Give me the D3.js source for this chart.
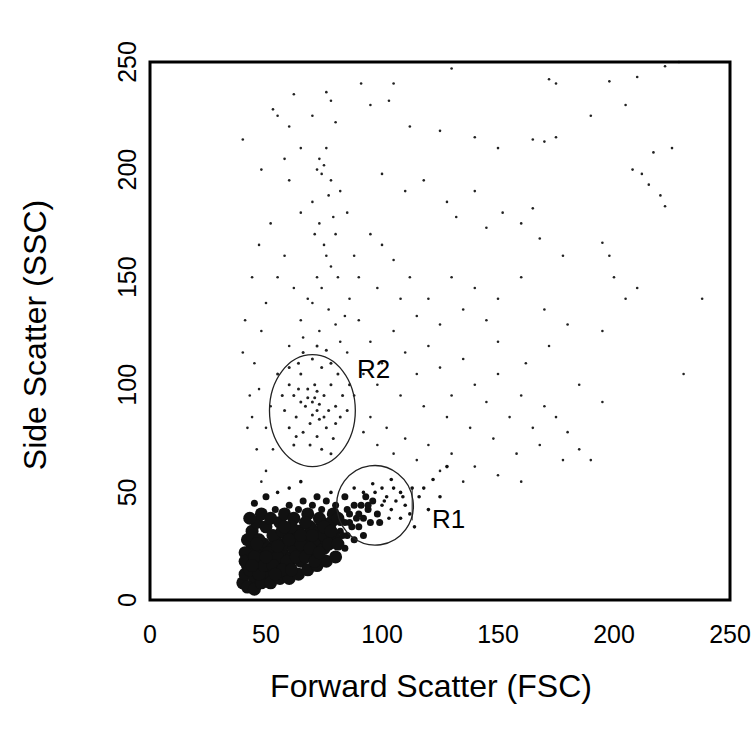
<!DOCTYPE html>
<html><head><meta charset="utf-8">
<script src="https://cdn.jsdelivr.net/npm/d3@7"></script>
<style>body{margin:0;background:#fff}</style></head>
<body><svg id="c" width="751" height="750"></svg>
<script>
const xTicks=[0,50,100,150,200,250];
const yTicks=[0,50,100,150,200,250];
// sparse events [FSC, SSC]
const sparse=[[130,247],[172,242],[175,240],[198,241],[210,243],[222,248],[228,250],[62,235],[76,236],[78,232],[91,240],[55,225],[60,220],[53,228],[70,225],[80,222],[95,230],[103,232],[105,240],[112,220],[125,218],[140,215],[150,210],[165,214],[170,213],[175,215],[190,225],[205,230],[217,208],[225,210],[208,200],[212,198],[215,193],[220,188],[222,183],[40,214],[48,200],[58,205],[65,210],[72,200],[75,202],[78,195],[82,190],[85,180],[70,185],[65,180],[60,195],[100,198],[110,190],[118,195],[128,185],[132,178],[140,190],[145,173],[152,180],[160,175],[165,182],[168,168],[178,160],[195,166],[198,160],[200,150],[205,140],[210,145],[238,140],[230,105],[195,125],[180,128],[170,135],[160,150],[150,140],[140,145],[130,150],[120,140],[112,150],[105,158],[100,165],[95,170],[88,160],[80,170],[75,165],[72,150],[68,140],[65,130],[62,145],[58,160],[55,150],[50,138],[48,125],[45,110],[43,95],[42,80],[46,70],[50,60],[73,205],[76,210],[74,198],[77,188],[79,178],[73,175],[71,170],[76,160],[78,155],[81,150],[74,145],[70,138],[77,135],[80,128],[73,125],[66,122],[82,120],[60,118],[85,115],[90,130],[95,120],[100,110],[105,125],[110,115],[115,105],[120,118],[125,108],[130,95],[135,112],[140,100],[145,92],[150,105],[155,85],[160,95],[165,80],[170,90],[175,85],[180,78],[185,70],[190,65],[178,65],[168,72],[158,68],[148,75],[138,80],[128,85],[118,90],[108,95],[98,100],[92,105],[88,95],[95,85],[102,80],[110,75],[120,72],[130,68],[140,62],[150,58],[160,55],[125,60],[135,55],[115,65],[105,68],[98,72],[92,78],[150,120],[162,110],[172,118],[185,100],[195,92],[145,130],[135,135],[125,128],[115,132],[108,140],[98,145],[90,150],[86,140],[84,132],[52,175],[47,165],[44,150],[41,130],[40,115],[47,98],[44,85],[52,90],[50,80],[53,70],[48,55]];
// R2 population
const r2=[[60,100],[62,95],[65,105],[68,98],[70,92],[72,88],[75,95],[78,100],[80,90],[82,85],[58,88],[60,80],[63,85],[66,78],[69,82],[72,76],[76,80],[79,75],[83,95],[85,88],[64,110],[70,112],[74,108],[78,110],[67,90],[71,100],[73,84],[77,88],[69,72],[74,70],[62,72],[57,95],[55,105],[81,105],[86,100],[60,108],[66,115],[72,118],[76,116],[70,86],[71,94],[72,97],[73,91],[68,94],[75,85],[65,92],[64,98],[80,82],[63,76],[78,68]];
// dense low population (debris/lymphocytes)
const dense=[[40,8],[41,12],[42,16],[43,20],[44,24],[45,10],[46,14],[47,18],[48,22],[49,26],[50,12],[51,16],[52,20],[53,24],[54,28],[55,14],[56,18],[57,22],[58,26],[59,30],[60,16],[61,20],[62,24],[63,28],[64,32],[65,18],[66,22],[67,26],[68,30],[69,34],[70,20],[71,24],[72,28],[73,32],[74,36],[75,24],[76,28],[77,32],[78,36],[79,40],[80,28],[82,32],[84,36],[86,40],[88,44],[90,34],[92,38],[94,42],[96,46],[98,40],[100,44],[102,48],[104,42],[106,46],[108,50],[110,44],[112,40],[42,28],[44,32],[46,36],[48,40],[50,34],[52,38],[54,42],[56,36],[58,40],[60,44],[62,38],[64,42],[66,46],[68,40],[70,44],[72,48],[74,42],[76,46],[78,50],[80,44],[84,48],[88,52],[92,50],[96,54],[100,52],[104,56],[108,38],[114,34],[116,48],[118,52],[120,42],[122,56],[125,48],[128,62],[42,6],[45,5],[48,8],[52,8],[56,10],[60,10],[64,12],[68,14],[72,16],[76,18],[80,20],[84,24],[88,28],[92,30],[41,22],[43,38],[45,45],[50,48],[55,50],[60,52],[65,55],[44,30],[47,28],[53,30],[57,32],[61,34],[67,36],[73,38],[79,30],[83,30],[87,34],[91,44],[95,36],[99,36],[103,38],[41,18],[43,14],[47,12],[51,22],[55,20],[59,18],[63,20],[67,20],[71,18],[75,30],[81,38],[85,42],[89,38],[93,48],[97,50],[101,46],[105,52],[109,48],[113,52],[49,16],[53,16],[57,14],[61,14],[65,26],[69,24],[73,22],[77,26],[81,26],[85,30],[45,20],[50,20],[55,25],[60,28],[65,30],[70,30],[75,34],[46,26],[58,34],[78,32],[82,36],[86,36],[90,40],[94,44],[44,16],[54,12]];
const W=751,H=750,L=150,R=730,T=62,B=600;
const x=d3.scaleLinear().domain([0,250]).range([L,R]);
const y=d3.scaleLinear().domain([0,250]).range([B,T]);
const svg=d3.select("#c");
const g=svg.append("g");
g.selectAll(".s").data(sparse).join("circle").attr("cx",d=>x(d[0])).attr("cy",d=>y(d[1])).attr("r",1.3).attr("fill","#222");
g.selectAll(".r2").data(r2).join("circle").attr("cx",d=>x(d[0])).attr("cy",d=>y(d[1])).attr("r",1.5).attr("fill","#222");
g.selectAll(".d").data(dense).join("circle").attr("cx",d=>x(d[0])).attr("cy",d=>y(d[1])).attr("r",d=>d[0]<82&&d[1]<42?6.5:(d[0]<100&&d[1]<50?3.5:1.8)).attr("fill","#111");
// gates
svg.append("ellipse").attr("cx",x(70)).attr("cy",y(88)).attr("rx",x(18.5)-x(0)).attr("ry",y(0)-y(26)).attr("fill","none").attr("stroke","#222").attr("stroke-width",1.3);
svg.append("ellipse").attr("cx",x(97)).attr("cy",y(44)).attr("rx",x(16.5)-x(0)).attr("ry",y(0)-y(18.5)).attr("fill","none").attr("stroke","#222").attr("stroke-width",1.3).attr("transform",`rotate(-8,${x(97)},${y(44)})`);
svg.append("line").attr("x1",x(113)).attr("x2",x(113)).attr("y1",y(52)).attr("y2",y(37)).attr("stroke","#222");
const f="Arial, Liberation Sans";
svg.append("text").attr("x",357).attr("y",378).text("R2").attr("font-family",f).attr("font-size",26);
svg.append("text").attr("x",432).attr("y",528).text("R1").attr("font-family",f).attr("font-size",26);
svg.append("rect").attr("x",L).attr("y",T).attr("width",R-L).attr("height",B-T).attr("fill","none").attr("stroke","#000").attr("stroke-width",3);
svg.selectAll(".xt").data(xTicks).join("text").attr("x",d=>x(d)).attr("y",643).attr("text-anchor","middle").attr("font-family",f).attr("font-size",25).text(d=>d);
svg.selectAll(".yt").data(yTicks).join("text").attr("transform",d=>`translate(136,${y(d)}) rotate(-90)`).attr("text-anchor","middle").attr("font-family",f).attr("font-size",25).text(d=>d);
svg.append("text").attr("x",431).attr("y",697).attr("text-anchor","middle").attr("font-family",f).attr("font-size",32).text("Forward Scatter (FSC)");
svg.append("text").attr("transform",`translate(46,335) rotate(-90)`).attr("text-anchor","middle").attr("font-family",f).attr("font-size",32).text("Side Scatter (SSC)");
</script></body></html>
